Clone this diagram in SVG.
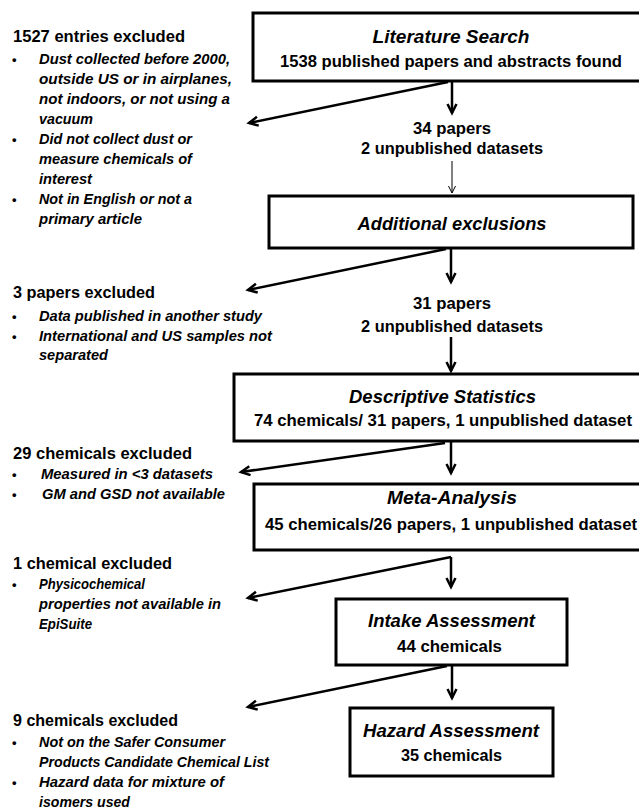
<svg xmlns="http://www.w3.org/2000/svg" width="639" height="811" viewBox="0 0 639 811">
<style>
text{font-family:"Liberation Sans",Arial,sans-serif;font-weight:bold;fill:#000}
.box{fill:#fff;stroke:#000;stroke-width:3}
.tt{font-size:18px;font-style:italic;text-anchor:middle}
.bd{font-size:16.5px;text-anchor:middle}
.hd{font-size:16.5px}
.it{font-size:15px;font-style:italic}
.bl{font-size:13px}
.ar{fill:none;stroke:#000;stroke-width:2.5;marker-end:url(#ah)}
.th{fill:none;stroke:#000;stroke-width:1;marker-end:url(#ahs)}
</style>
<defs>
<marker id="ah" markerUnits="userSpaceOnUse" viewBox="-11 -6 13 12" refX="0" refY="0" markerWidth="13" markerHeight="12" orient="auto" overflow="visible">
<path d="M-9,-4.5 L0,0 L-9,4.5" fill="none" stroke="#000" stroke-width="2.5"/>
</marker>
<marker id="ahs" markerUnits="userSpaceOnUse" viewBox="-8 -5 10 10" refX="0" refY="0" markerWidth="10" markerHeight="10" orient="auto" overflow="visible">
<path d="M-7,-3.5 L0,0 L-7,3.5" fill="none" stroke="#000" stroke-width="1"/>
</marker>
</defs>

<g id="connectors">
<line class="ar" x1="452" y1="82" x2="452" y2="113"/>
<line class="ar" x1="448" y1="82" x2="249" y2="123"/>
<line class="th" x1="452" y1="161" x2="452" y2="193"/>
<line class="ar" x1="451" y1="249" x2="451" y2="282"/>
<line class="ar" x1="446" y1="249" x2="248" y2="290"/>
<line class="ar" x1="451" y1="337" x2="451" y2="371"/>
<line class="ar" x1="451" y1="442" x2="451" y2="473"/>
<line class="ar" x1="445" y1="443" x2="241" y2="472"/>
<line class="ar" x1="451" y1="557" x2="451" y2="587"/>
<line class="ar" x1="451" y1="557" x2="248" y2="598"/>
<line class="ar" x1="452" y1="666" x2="452" y2="698"/>
<line class="ar" x1="447" y1="666" x2="248" y2="707"/>
</g>

<g id="literature-search">
<rect class="box" x="253" y="13" width="395" height="68"/>
<text class="tt" x="451" y="43" textLength="157" lengthAdjust="spacingAndGlyphs">Literature Search</text>
<text class="bd" x="451" y="67" textLength="342" lengthAdjust="spacingAndGlyphs">1538 published papers and abstracts found</text>
</g>

<g id="count-1">
<text class="bd" x="452" y="134" textLength="78" lengthAdjust="spacingAndGlyphs">34 papers</text>
<text class="bd" x="452" y="154" textLength="182" lengthAdjust="spacingAndGlyphs">2 unpublished datasets</text>
</g>

<g id="additional-exclusions">
<rect class="box" x="269" y="196" width="364" height="52"/>
<text class="tt" x="452" y="230" textLength="189" lengthAdjust="spacingAndGlyphs">Additional exclusions</text>
</g>

<g id="count-2">
<text class="bd" x="452" y="309" textLength="78" lengthAdjust="spacingAndGlyphs">31 papers</text>
<text class="bd" x="452" y="332" textLength="182" lengthAdjust="spacingAndGlyphs">2 unpublished datasets</text>
</g>

<g id="descriptive-statistics">
<rect class="box" x="234" y="374" width="414" height="67"/>
<text class="tt" x="442.5" y="403" textLength="187" lengthAdjust="spacingAndGlyphs">Descriptive Statistics</text>
<text class="bd" x="443" y="426" textLength="378" lengthAdjust="spacingAndGlyphs">74 chemicals/ 31 papers, 1 unpublished dataset</text>
</g>

<g id="meta-analysis">
<rect class="box" x="254" y="484" width="394" height="66"/>
<text class="tt" x="452" y="504" textLength="130" lengthAdjust="spacingAndGlyphs">Meta-Analysis</text>
<text class="bd" x="451" y="530" textLength="372" lengthAdjust="spacingAndGlyphs">45 chemicals/26 papers, 1 unpublished dataset</text>
</g>

<g id="intake-assessment">
<rect class="box" x="336" y="599" width="231" height="66"/>
<text class="tt" x="451.5" y="627" textLength="167" lengthAdjust="spacingAndGlyphs">Intake Assessment</text>
<text class="bd" x="449.5" y="652" textLength="105" lengthAdjust="spacingAndGlyphs">44 chemicals</text>
</g>

<g id="hazard-assessment">
<rect class="box" x="350" y="708" width="203" height="68"/>
<text class="tt" x="451" y="737" textLength="176" lengthAdjust="spacingAndGlyphs">Hazard Assessment</text>
<text class="bd" x="451.5" y="761" textLength="101" lengthAdjust="spacingAndGlyphs">35 chemicals</text>
</g>

<g id="exclusion-1">
<text class="hd" x="13" y="42" textLength="172" lengthAdjust="spacingAndGlyphs">1527 entries excluded</text>
<text class="bl" x="12" y="64">•</text>
<text class="it" x="39" y="64" textLength="191" lengthAdjust="spacingAndGlyphs">Dust collected before 2000,</text>
<text class="it" x="39" y="84" textLength="193" lengthAdjust="spacingAndGlyphs">outside US or in airplanes,</text>
<text class="it" x="39" y="104" textLength="191" lengthAdjust="spacingAndGlyphs">not indoors, or not using a</text>
<text class="it" x="39" y="124" textLength="54" lengthAdjust="spacingAndGlyphs">vacuum</text>
<text class="bl" x="12" y="144">•</text>
<text class="it" x="39" y="144" textLength="153" lengthAdjust="spacingAndGlyphs">Did not collect dust or</text>
<text class="it" x="39" y="164" textLength="153" lengthAdjust="spacingAndGlyphs">measure chemicals of</text>
<text class="it" x="39" y="184" textLength="53" lengthAdjust="spacingAndGlyphs">interest</text>
<text class="bl" x="12" y="204">•</text>
<text class="it" x="39" y="204" textLength="153" lengthAdjust="spacingAndGlyphs">Not in English or not a</text>
<text class="it" x="39" y="224" textLength="103" lengthAdjust="spacingAndGlyphs">primary article</text>
</g>

<g id="exclusion-2">
<text class="hd" x="13" y="298" textLength="142" lengthAdjust="spacingAndGlyphs">3 papers excluded</text>
<text class="bl" x="12" y="321">•</text>
<text class="it" x="39" y="321" textLength="223" lengthAdjust="spacingAndGlyphs">Data published in another study</text>
<text class="bl" x="12" y="341">•</text>
<text class="it" x="39" y="341" textLength="233" lengthAdjust="spacingAndGlyphs">International and US samples not</text>
<text class="it" x="39" y="360" textLength="69" lengthAdjust="spacingAndGlyphs">separated</text>
</g>

<g id="exclusion-3">
<text class="hd" x="13" y="459" textLength="179" lengthAdjust="spacingAndGlyphs">29 chemicals excluded</text>
<text class="bl" x="12" y="479">•</text>
<text class="it" x="41" y="479" textLength="172" lengthAdjust="spacingAndGlyphs">Measured in &lt;3 datasets</text>
<text class="bl" x="12" y="499">•</text>
<text class="it" x="42" y="499" textLength="183" lengthAdjust="spacingAndGlyphs">GM and GSD not available</text>
</g>

<g id="exclusion-4">
<text class="hd" x="13" y="569" textLength="159" lengthAdjust="spacingAndGlyphs">1 chemical excluded</text>
<text class="bl" x="12" y="589">•</text>
<text class="it" x="39" y="589" textLength="106" lengthAdjust="spacingAndGlyphs">Physicochemical</text>
<text class="it" x="39" y="609" textLength="182" lengthAdjust="spacingAndGlyphs">properties not available in</text>
<text class="it" x="39" y="629" textLength="53" lengthAdjust="spacingAndGlyphs">EpiSuite</text>
</g>

<g id="exclusion-5">
<text class="hd" x="13" y="726" textLength="165" lengthAdjust="spacingAndGlyphs">9 chemicals excluded</text>
<text class="bl" x="12" y="747">•</text>
<text class="it" x="39" y="747" textLength="186" lengthAdjust="spacingAndGlyphs">Not on the Safer Consumer</text>
<text class="it" x="39" y="767" textLength="230" lengthAdjust="spacingAndGlyphs">Products Candidate Chemical List</text>
<text class="bl" x="12" y="787">•</text>
<text class="it" x="39" y="787" textLength="185" lengthAdjust="spacingAndGlyphs">Hazard data for mixture of</text>
<text class="it" x="39" y="807" textLength="91" lengthAdjust="spacingAndGlyphs">isomers used</text>
</g>
</svg>
